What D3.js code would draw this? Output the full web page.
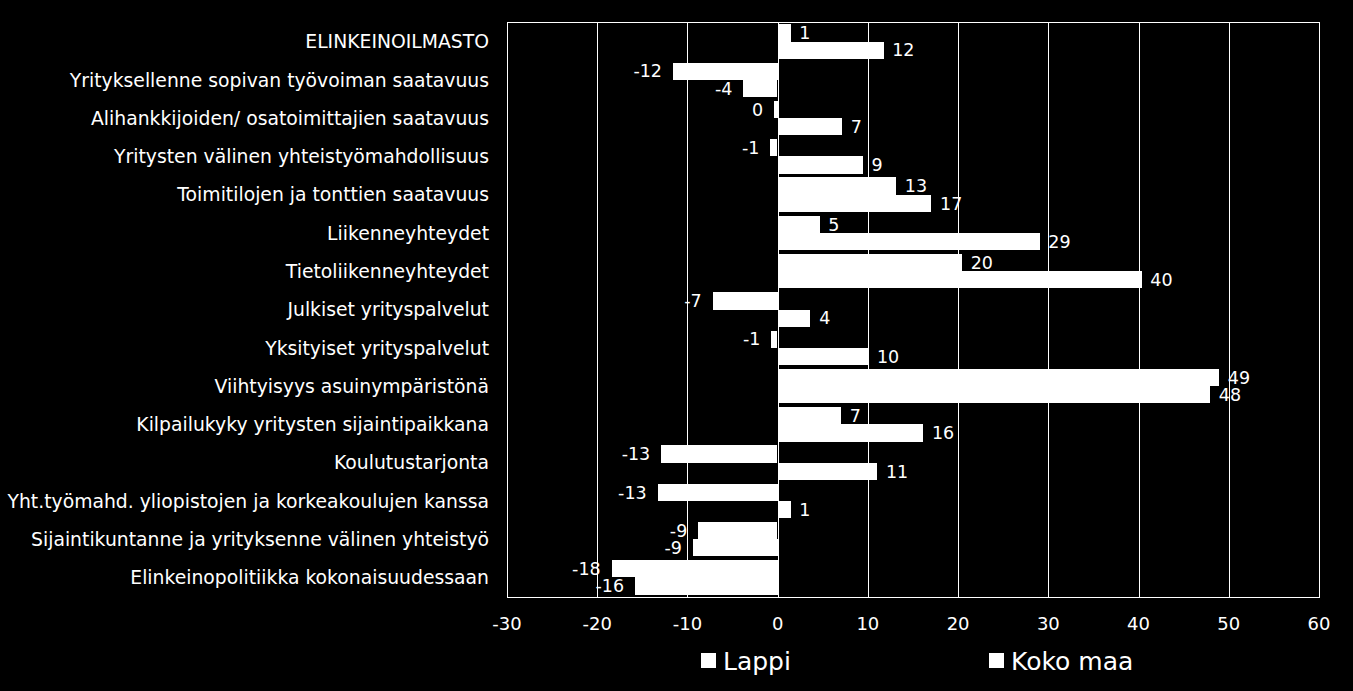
<!DOCTYPE html>
<html>
<head>
<meta charset="utf-8">
<script src="https://cdn.jsdelivr.net/npm/d3@7"></script>
<style>
  html, body { margin: 0; padding: 0; background: #000; }
  svg { display: block; }
  text { fill: #fff; font-family: "DejaVu Sans", sans-serif; }
</style>
</head>
<body>
<svg id="chart" width="1353" height="691"></svg>
<script>
// ── Data ──────────────────────────────────
const categories = [
  'ELINKEINOILMASTO',
  'Yrityksellenne sopivan työvoiman saatavuus',
  'Alihankkijoiden/ osatoimittajien saatavuus',
  'Yritysten välinen yhteistyömahdollisuus',
  'Toimitilojen ja tonttien saatavuus',
  'Liikenneyhteydet',
  'Tietoliikenneyhteydet',
  'Julkiset yrityspalvelut',
  'Yksityiset yrityspalvelut',
  'Viihtyisyys asuinympäristönä',
  'Kilpailukyky yritysten sijaintipaikkana',
  'Koulutustarjonta',
  'Yht.työmahd. yliopistojen ja korkeakoulujen kanssa',
  'Sijaintikuntanne ja yrityksenne välinen yhteistyö',
  'Elinkeinopolitiikka kokonaisuudessaan'
];
const seriesNames = ['Lappi', 'Koko maa'];
const lappi   = [1.4, -11.6, -0.4, -0.8, 13.1, 4.6, 20.4, -7.2, -0.7, 48.9, 7.0, -12.9, -13.3, -8.8, -18.4];
const kokoMaa = [11.7, -3.8, 7.1, 9.4, 17.0, 29.0, 40.3, 3.6, 10.0, 47.9, 16.1, 11.0, 1.4, -9.4, -15.8];
const xTicks  = [-30, -20, -10, 0, 10, 20, 30, 40, 50, 60];

// ── Layout ────────────────────────────────
const plot = { left: 507, right: 1319, top: 22, bottom: 597 };
const svg = d3.select('#chart');

const x = d3.scaleLinear().domain([-30, 60]).range([plot.left, plot.right]);
const y = d3.scaleBand().domain(categories).range([plot.top, plot.bottom])
  .paddingInner(0.1).paddingOuter(0.06);
const ySub = d3.scaleBand().domain(seriesNames).range([0, y.bandwidth()]);

const rows = categories.map((c, i) => ({ cat: c, values: [lappi[i], kokoMaa[i]] }));

// gridlines
svg.append('g')
  .selectAll('line').data(xTicks).join('line')
  .attr('x1', d => Math.round(x(d)) + 0.5).attr('x2', d => Math.round(x(d)) + 0.5)
  .attr('y1', plot.top).attr('y2', plot.bottom)
  .attr('stroke', '#fff').attr('stroke-width', 1);

// plot frame
svg.append('rect')
  .attr('x', plot.left + 0.5).attr('y', plot.top + 0.5)
  .attr('width', plot.right - plot.left).attr('height', plot.bottom - plot.top)
  .attr('fill', 'none').attr('stroke', '#fff').attr('stroke-width', 1);

// bars (rounded to whole pixels so the two halves of a group touch cleanly)
const groups = svg.append('g').selectAll('g').data(rows).join('g');

groups.selectAll('rect')
  .data(d => d.values.map((v, j) => ({ v, s: seriesNames[j], cat: d.cat })))
  .join('rect')
  .attr('x', d => Math.round(x(Math.min(0, d.v))))
  .attr('width', d => Math.max(1, Math.round(Math.abs(x(d.v) - x(0)))))
  .attr('y', d => Math.round(y(d.cat) + ySub(d.s)))
  .attr('height', d => Math.round(y(d.cat) + ySub(d.s) + ySub.bandwidth()) - Math.round(y(d.cat) + ySub(d.s)))
  .attr('fill', '#fff')
  .attr('shape-rendering', 'crispEdges');

// value labels
groups.selectAll('text')
  .data(d => d.values.map((v, j) => ({ v, s: seriesNames[j], cat: d.cat })))
  .join('text')
  .attr('x', d => d.v >= 0 ? x(d.v) + 9 : x(d.v) - 11)
  .attr('y', d => y(d.cat) + ySub(d.s) + ySub.bandwidth() / 2)
  .attr('dy', '0.36em')
  .attr('text-anchor', d => d.v >= 0 ? 'start' : 'end')
  .style('font-size', '17.5px')
  .text(d => String(Math.round(d.v)).replace('-0', '0'));

// category labels
svg.append('g').selectAll('text').data(categories).join('text')
  .attr('x', 489)
  .attr('y', d => y(d) + y.bandwidth() / 2)
  .attr('dy', '0.36em')
  .attr('text-anchor', 'end')
  .style('font-size', '18.8px')
  .text(d => d);

// x axis labels
svg.append('g').selectAll('text').data(xTicks).join('text')
  .attr('x', d => x(d))
  .attr('y', 624)
  .attr('dy', '0.36em')
  .attr('text-anchor', 'middle')
  .style('font-size', '18px')
  .text(d => d);

// legend
const legendPos = [701, 989];
const leg = svg.append('g').selectAll('g').data(seriesNames).join('g')
  .attr('transform', (d, i) => `translate(${legendPos[i]},653)`);
leg.append('rect').attr('width', 15).attr('height', 15).attr('fill', '#fff');
leg.append('text')
  .attr('x', 22).attr('y', 8).attr('dy', '0.36em')
  .style('font-size', '25px')
  .text(d => d);
</script>
</body>
</html>
